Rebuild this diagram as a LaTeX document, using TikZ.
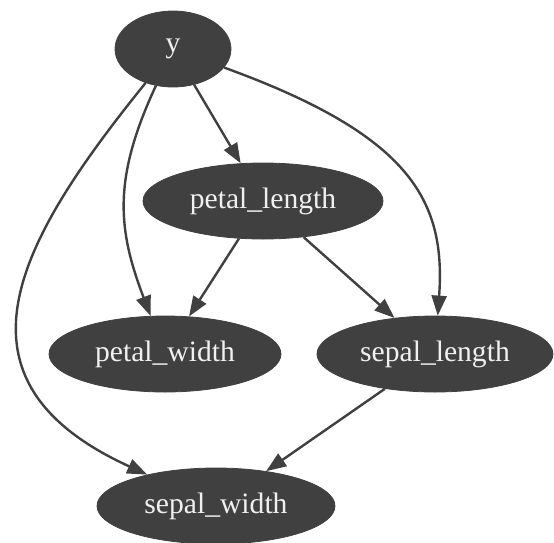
\documentclass[tikz,border=0pt]{standalone}
\usepackage{fontspec}
\setmainfont{Liberation Serif}
\usepackage{tikz}
\usetikzlibrary{shapes.geometric,arrows.meta}
\definecolor{nodegray}{RGB}{64,64,64}
\definecolor{labelwhite}{RGB}{240,240,240}

\begin{document}
\begin{tikzpicture}[x=0.5pt,y=-0.5pt,
  var/.style={ellipse, draw=nodegray, fill=nodegray, text=labelwhite,
    inner sep=0pt, minimum height=38pt, font=\fontsize{14.8}{16}\selectfont},
  edge/.style={draw=nodegray, line width=1.2pt, -{Triangle[length=10pt,width=7.5pt]}}]
\useasboundingbox (0,0) rectangle (554,543);

% Variables
\node[var, minimum width=58pt]  (y)           at (173,49)  {\raisebox{-1.5pt}{y}};
\node[var, minimum width=120pt] (petallength) at (263,201) {\raisebox{-1pt}{petal\_length}};
\node[var, minimum width=116pt] (petalwidth)  at (165,354) {\raisebox{-1pt}{petal\_width}};
\node[var, minimum width=118pt] (sepallength) at (435,354) {\raisebox{-1pt}{sepal\_length}};
\node[var, minimum width=119pt] (sepalwidth)  at (216,506) {\raisebox{-1pt}{sepal\_width}};

% Straight edges
\draw[edge] (y) -- (petallength);
\draw[edge] (petallength) -- (petalwidth);
\draw[edge] (petallength) -- (sepallength);
\draw[edge] (sepallength) -- (sepalwidth);

% Curved edges out of y
\draw[edge] (y) .. controls (112,180) and (118,230) .. (petalwidth);
\draw[edge] (y) .. controls (17,242) and (-60,380) .. (sepalwidth);
\draw[edge] (y) .. controls (410,135) and (446,200) .. (sepallength);
\end{tikzpicture}
\end{document}
